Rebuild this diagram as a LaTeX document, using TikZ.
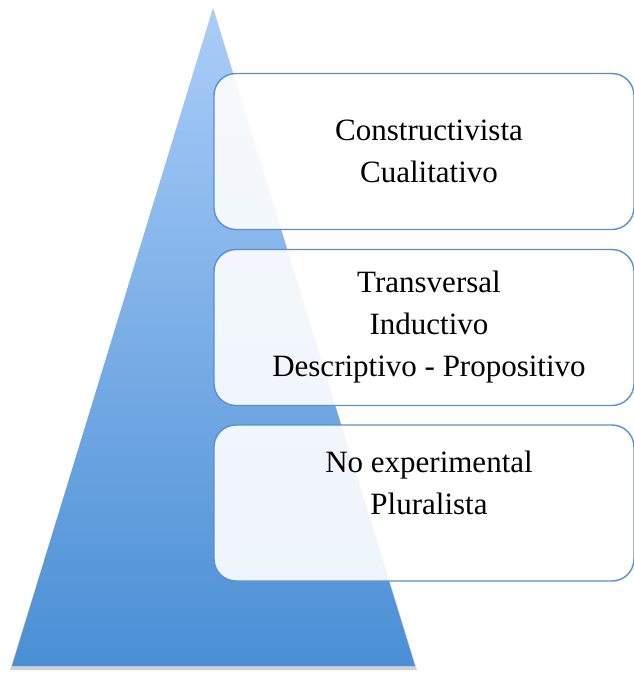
\documentclass[tikz,border=0pt]{standalone}
\usepackage{fontspec}
\setmainfont{Liberation Serif}
\usepackage{tikz}
\usetikzlibrary{positioning}

\definecolor{pyrtop}{HTML}{AACDF8}
\definecolor{pyrbot}{HTML}{4A8FD5}
\definecolor{tierline}{HTML}{5B90CC}

\begin{document}
\begin{tikzpicture}[
    x=1pt, y=-1pt,
    tier/.style={rectangle, draw=tierline, line width=1.4pt, rounded corners=22pt,
                 fill=white, fill opacity=0.9, draw opacity=1,
                 minimum width=420pt, minimum height=156pt},
    txt/.style={align=center, font=\fontsize{31}{42}\selectfont, text=black,
                inner sep=0pt, xshift=5pt},
]
\useasboundingbox (0,0) rectangle (634,675);

% pyramid with soft shadow
\fill[black, opacity=0.18] (214,11) -- (417,670) -- (10,670) -- cycle;
\shade[top color=pyrtop, bottom color=pyrbot] (213,8) -- (415,666) -- (12,666) -- cycle;

% tiers
\node[tier] (t1) at (424,151.5) {};
\node[tier] (t2) at (424,327.5) {};
\node[tier] (t3) at (424,503) {};

\node[txt] (l1) at (t1) {Constructivista\\Cualitativo};
\node[txt] (l2) at (t2) {Transversal\\Inductivo\\Descriptivo - Propositivo};
\node[txt, yshift=20pt] (l3) at (t3) {No experimental\\Pluralista};
\end{tikzpicture}
\end{document}
